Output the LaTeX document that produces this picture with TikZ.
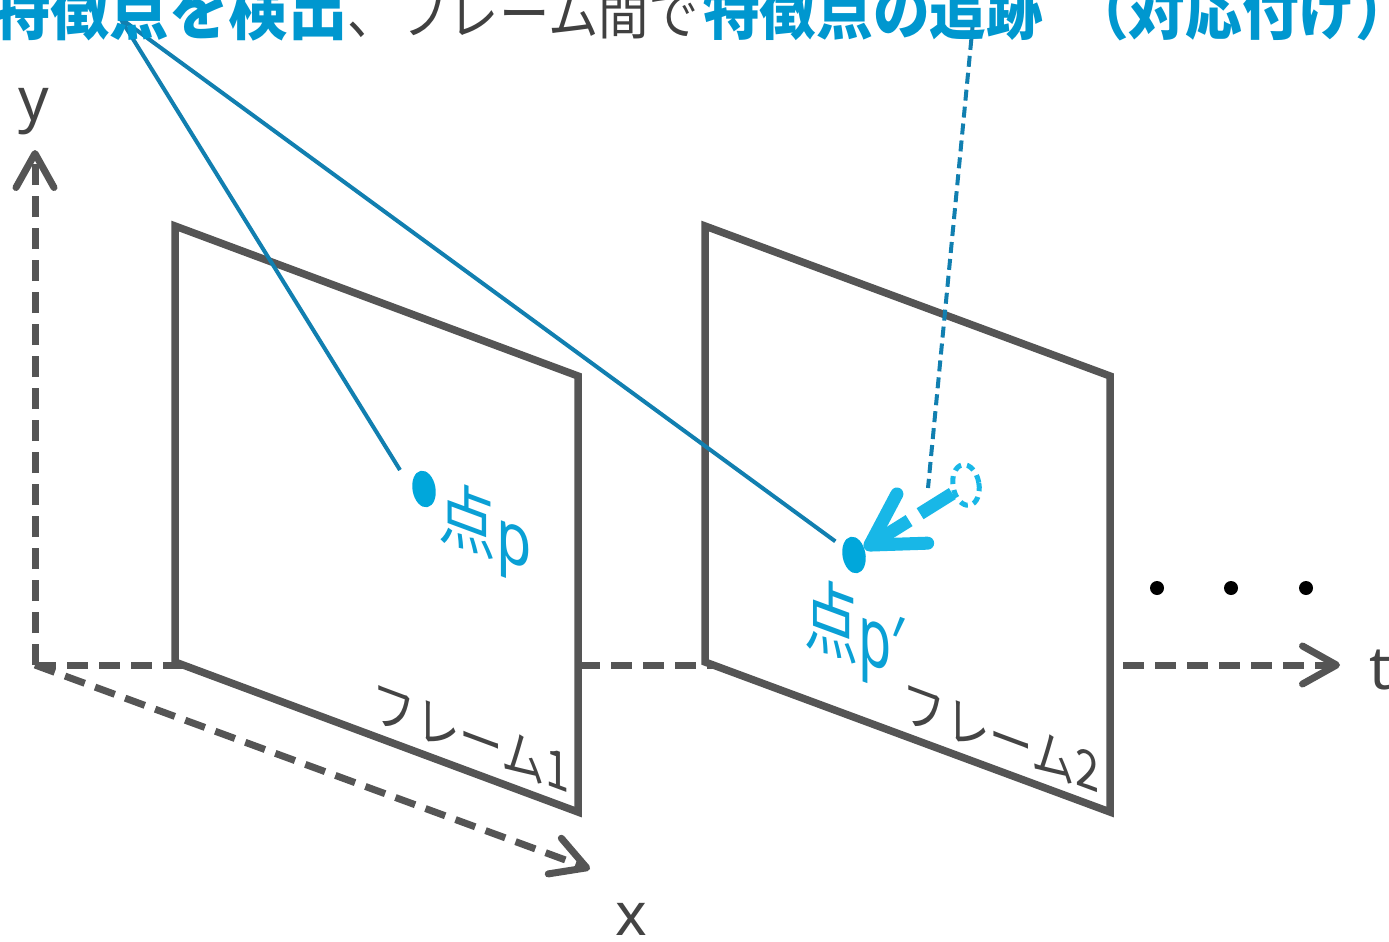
\documentclass[tikz,border=0pt]{standalone}
\usepackage{fontspec}
\usetikzlibrary{arrows.meta,shapes.geometric}
\newfontfamily\jp{Noto Sans CJK JP}
\newfontfamily\lat{Noto Sans}
\definecolor{tblue}{HTML}{0097CF}
\definecolor{tgray}{HTML}{404040}
\definecolor{leadblue}{HTML}{117FB0}
\definecolor{ptblue}{HTML}{00A7DB}
\definecolor{arrowblue}{HTML}{18B7E7}
\definecolor{lblue}{HTML}{0AA0D5}
\definecolor{frgray}{HTML}{555555}
\definecolor{lblgray}{HTML}{444444}
\begin{document}
\begin{tikzpicture}[x=1pt,y=-1pt,
  axis/.style={draw=frgray, line width=7pt, dash pattern=on 21pt off 11pt,
    -{Straight Barb[length=34pt,width=38pt,round]}},
  frame/.style={draw=frgray, line width=7.5pt, fill=white, line join=miter},
  lead/.style={draw=leadblue, line width=4pt},
  leaddash/.style={lead, dash pattern=on 11pt off 6pt},
  fpt/.style={ellipse, fill=ptblue, minimum width=23pt, minimum height=37pt, inner sep=0pt, rotate=10},
  ghost/.style={ellipse, draw=arrowblue, line width=5pt, dash pattern=on 8pt off 6pt,
    minimum width=26pt, minimum height=41pt, inner sep=0pt, rotate=10},
  track/.style={draw=arrowblue, line width=13pt, dash pattern=on 38pt off 13pt,
    -{Straight Barb[length=50pt,width=58pt,round]}},
  ptlbl/.style={anchor=base, inner sep=0pt, text=lblue, yslant=-0.37},
  frlbl/.style={anchor=base, inner sep=0pt, text=lblgray, yslant=-0.372, xscale=0.82,
    font=\jp\fontsize{53}{53}\selectfont},
  axlbl/.style={anchor=base, inner sep=0pt, text=lblgray, font=\lat\fontsize{60}{60}\selectfont},
  toptxt/.style={anchor=base west, inner sep=0pt, xscale=0.9},
  dotn/.style={circle, fill=black, minimum size=14pt, inner sep=0pt}
]
\useasboundingbox (0,0) rectangle (1389,942);
% axes
\coordinate (O) at (35,665);
\coordinate (ytip) at (35,150);
\coordinate (xtip) at (590,869);
\coordinate (ttip) at (1340,665);
\draw[axis] (O) -- (ytip);
\draw[axis] (O) -- (xtip);
\draw[axis] (O) -- (ttip);
% frames
\draw[frame] (175,226) -- (578,376) -- (578,812) -- (175,662) -- cycle;
\draw[frame] (705,226) -- (1110,376) -- (1110,812) -- (705,662) -- cycle;
% frame labels
\node[frlbl] (f1) at (471,757) {フレーム1};
\node[frlbl] (f2) at (1001,757) {フレーム2};
% feature points
\node[fpt] (p) at (424,489) {};
\node[fpt] (pp) at (854,555) {};
\node[ghost] (g) at (966,485) {};
\draw[track] (g) -- (pp);
% point labels
\node[ptlbl, xscale=0.8, font=\jp\fontsize{72}{72}\selectfont] (lp) at (485,553) {点{\lat p}};
\node[ptlbl, xscale=0.66, font=\jp\fontsize{82}{82}\selectfont] (lpp) at (854,659) {点{\lat p′}};
% dots
\node[dotn] (d1) at (1157,588) {};
\node[dotn] (d2) at (1231,588) {};
\node[dotn] (d3) at (1306,588) {};
% axis labels
\node[axlbl] (ylab) at (34,120) {y};
\node[axlbl] (xlab) at (631,935) {x};
\node[axlbl] (tlab) at (1380,689) {t};
% leader lines
\coordinate (L0) at (120,18);
\coordinate (l1e) at (400,470);
\coordinate (L3) at (973,22);
\coordinate (l3e) at (928,488);
\draw[lead] (L0) -- (l1e);
\draw[lead, shorten >=9pt] (L0) -- (pp);
\draw[leaddash] (L3) -- (l3e);
% top text
\node[toptxt, text=tblue, font=\jp\bfseries\fontsize{66}{66}\selectfont] (t1) at (-9,35) {特徴点を検出};
\node[toptxt, text=tgray, font=\jp\fontsize{56}{56}\selectfont] (t2) at (t1.base east) {、フレーム間で};
\node[toptxt, text=tblue, font=\jp\bfseries\fontsize{63}{63}\selectfont] (t3) at (703,35) {特徴点の追跡};
\node[toptxt, text=tblue, font=\jp\bfseries\fontsize{63}{63}\selectfont] (t4) at (1072,35) {（対応付け）};
\end{tikzpicture}
\end{document}
